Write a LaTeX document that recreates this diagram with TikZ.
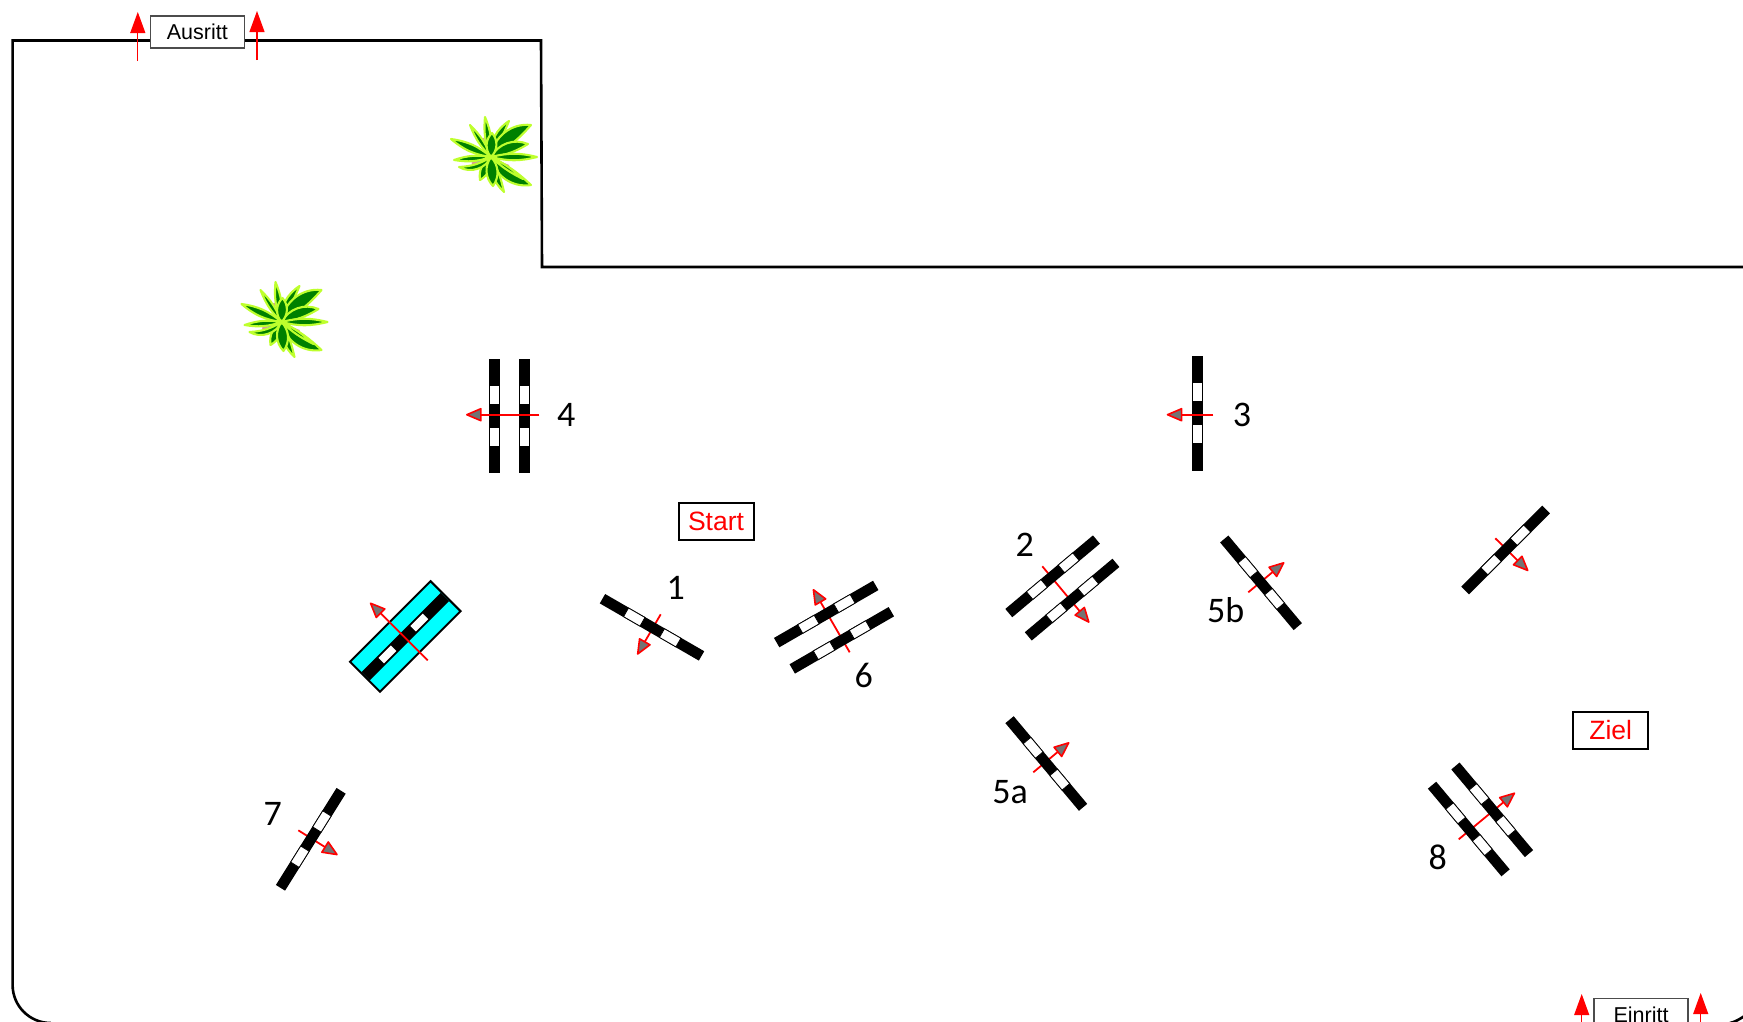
\documentclass[tikz,border=0pt]{standalone}
\usepackage{fontspec}
\setmainfont{Liberation Sans}
\newfontfamily\numfont{Carlito}
\usetikzlibrary{arrows.meta}
\definecolor{leafgreen}{RGB}{0,128,0}
\definecolor{leafedge}{RGB}{190,255,45}
\definecolor{pinkbit}{RGB}{215,155,150}
\definecolor{jumpcyan}{RGB}{0,255,255}
\tikzset{
  x=1pt,y=-1pt,
  wall/.style={draw=black,line width=2.6pt,line join=miter},
  gatebox/.style={draw=black!70,line width=1.4pt,fill=white,text=black,inner sep=0pt,font=\fontsize{21.5}{21.5}\selectfont},
  signbox/.style={draw=black,line width=2pt,fill=white,text=red,inner sep=0pt,minimum width=75pt,minimum height=37pt,font=\fontsize{26.5}{26.5}\selectfont},
  numlabel/.style={inner sep=0pt,text=black,font=\numfont\fontsize{36}{36}\selectfont},
  gatearrow/.style={draw=red,line width=1.1pt,-{Triangle[length=21pt,width=15pt,fill=red]}},
  dirarrow/.style={draw=red,line width=1.8pt,-{Triangle[length=17pt,width=14pt,fill=gray!90!black,line width=1.6pt,round]}},
  leaf/.style={fill=leafgreen,draw=leafedge,line width=2.1pt,line join=round},
  rail/.pic={
    \fill[black] (-57.2,-5.4) rectangle (57.2,5.4);
    \draw[black,fill=white,line width=.8pt] (-30,-5) rectangle (-11,5);
    \draw[black,fill=white,line width=.8pt] (11.5,-5) rectangle (30.5,5);
  },
  jumprail/.pic={
    \draw[black,fill=jumpcyan,line width=2pt,line join=miter] (-57,-21.2) rectangle (57,21.2);
    \fill[black] (-56,-5.8) rectangle (56,5.8);
    \fill[white] (-34,-3.9) rectangle (-16.5,3.9);
    \fill[white] (11,-3.9) rectangle (28.5,3.9);
  },
  plant/.pic={
    \draw[pinkbit,line width=3pt] (-19,7) -- (-14,5);
    \draw[gray!70,line width=3pt] (-14,5) -- (-7,2);
    \draw[pinkbit,line width=3pt] (12,-6) -- (19,-8);
    \draw[pinkbit,line width=3pt] (-8,-19) -- (-7,-11);
    \draw[pinkbit,line width=2pt] (8,5) -- (18,9);
    \foreach \dx/\dy/\bnda/\bndb in {
      -6/-40/14/14, 18/-36/30/4, 40/-32/45/10, 37/-13/42/12, 40/28/8/44, 32/22/8/8, 13/35/8/26,
      -11/23/34/34, -32/10/48/-14, -37/3/14/14, -40/-18/16/16, -21/-32/12/12, 46/0/14/14, 2/29/40/40, 1/-24/44/44}
      {\path[leaf] (0,0) to[bend left=\bnda] (\dx,\dy) to[bend left=\bndb] (0,0) -- cycle;}
    \fill[leafedge] (0,0) circle (2.5);
  }
}
\begin{document}
\begin{tikzpicture}
\clip (0,0) rectangle (1743,1021);
\fill[white] (0,0) rectangle (1743,1021);

% boundary
\draw[wall] (1746,267) -- (542,267) -- (541,40.5) -- (12.6,40.5) -- (12.6,985)
  .. controls (12.6,1006) and (29.7,1023) .. (50.7,1023);
\draw[wall] (1730,1023) .. controls (1735,1022) and (1740,1019) .. (1746,1015);

% entrance and exit
\coordinate (ausL) at (137.8,61);
\coordinate (ausLt) at (137.8,12);
\coordinate (ausR) at (257,60);
\coordinate (ausRt) at (257,11);
\draw[gatearrow] (ausL) -- (ausLt);
\draw[gatearrow] (ausR) -- (ausRt);
\node[gatebox,minimum width=94pt,minimum height=32pt] (ausritt) at (197.3,32) {Ausritt};

\coordinate (einL) at (1581.7,1040);
\coordinate (einLt) at (1581.7,994);
\coordinate (einR) at (1700.7,1040);
\coordinate (einRt) at (1700.7,993);
\draw[gatearrow] (einL) -- (einLt);
\draw[gatearrow] (einR) -- (einRt);
\node[gatebox,minimum width=94pt,minimum height=32pt] (einritt) at (1641,1014.3) {Einritt};

% plants
\pic at (491,157) {plant};
\pic at (281.5,322) {plant};

% start and finish signs
\node[signbox] (start) at (716,521.8) {Start};
\node[signbox] (ziel) at (1610.7,730) {Ziel};

% obstacle 4
\pic[rotate=90] at (494.5,416) {rail};
\pic[rotate=90] at (524.7,416) {rail};
\draw[dirarrow] (539.3,414.7) -- (466,414.7);
\node[numlabel] (n4) at (566.3,414.7) {4};

% obstacle 3
\pic[rotate=90] at (1197.3,413.3) {rail};
\draw[dirarrow] (1213.3,414.7) -- (1166.7,414.7);
\node[numlabel] (n3) at (1242,414.7) {3};

% obstacle 1
\draw[dirarrow] (660.7,614.3) -- (637.3,654.7);
\pic[rotate=-30] at (652,627.3) {rail};
\node[numlabel] (n1) at (675.7,588.3) {1};

% obstacle 6
\draw[dirarrow] (849.7,652.3) -- (813,589);
\pic[rotate=30] at (826.2,614) {rail};
\pic[rotate=30] at (841.8,640.3) {rail};
\node[numlabel] (n6) at (863.7,675) {6};

% obstacle 2
\draw[dirarrow] (1042.3,566.3) -- (1089.3,622.7);
\pic[rotate=40] at (1052.6,576.3) {rail};
\pic[rotate=40] at (1072.1,599.6) {rail};
\node[numlabel] (n2) at (1024.7,545) {2};

% obstacle 5b
\draw[dirarrow] (1248.3,592.3) -- (1284.3,562.3);
\pic[rotate=-50] at (1261,582.8) {rail};
\node[numlabel] (n5b) at (1225.7,609.7) {5b};

% unnumbered obstacle
\draw[dirarrow] (1495.3,538.3) -- (1528.3,571);
\pic[rotate=45] at (1505.6,550) {rail};

% obstacle 8
\draw[dirarrow] (1458.7,839.3) -- (1515,792.7);
\pic[rotate=-50] at (1492.2,809.8) {rail};
\pic[rotate=-50] at (1468.8,829) {rail};
\node[numlabel] (n8) at (1437.7,857.2) {8};

% obstacle 5a
\draw[dirarrow] (1033.3,772.3) -- (1069.3,742.3);
\pic[rotate=-50] at (1046.3,763.5) {rail};
\node[numlabel] (n5a) at (1010.2,792.3) {5a};

% water jump
\pic[rotate=45] at (405.3,636.5) {jumprail};
\draw[dirarrow] (427.7,660.3) -- (370,602.7);

% obstacle 7
\draw[dirarrow] (298.3,830.3) -- (337.7,855);
\pic[rotate=58] at (310.8,839.3) {rail};
\node[numlabel] (n7) at (272.7,814.3) {7};
\end{tikzpicture}
\end{document}
